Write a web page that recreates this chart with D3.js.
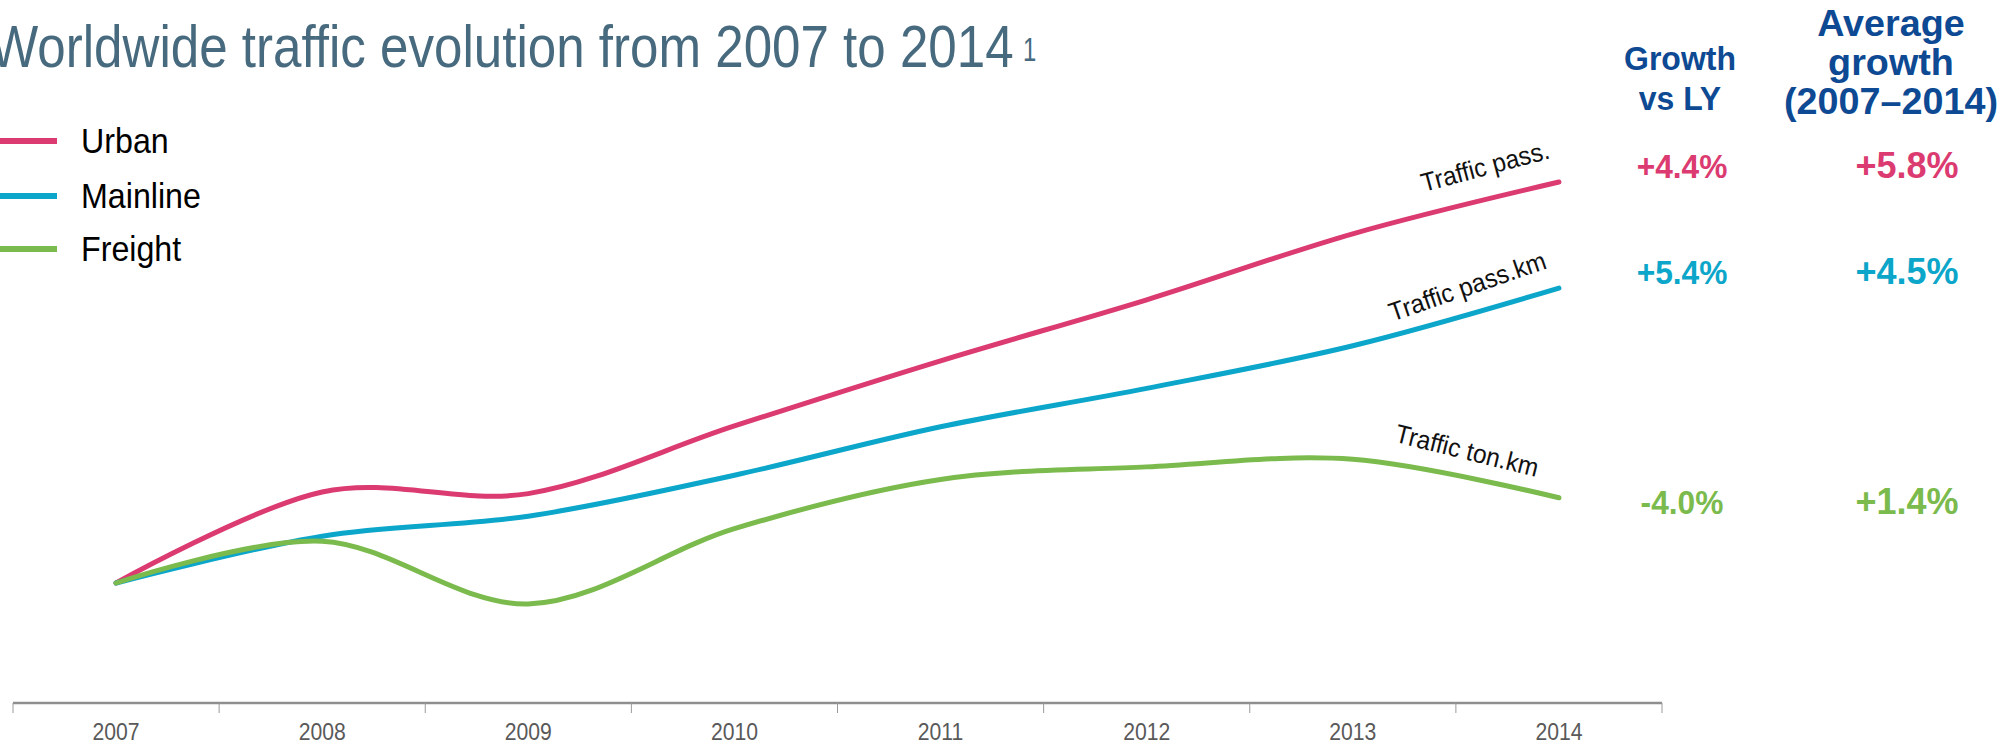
<!DOCTYPE html>
<html>
<head>
<meta charset="utf-8">
<script src="https://cdn.jsdelivr.net/npm/d3@7"></script>
<style>
  html, body { margin: 0; padding: 0; background: #fff; overflow: hidden; }
  svg { display: block; font-family: "Liberation Sans", Arial, sans-serif; }
</style>
</head>
<body>
<div id="chart"></div>
<script>
// data (index, 2007 = 100)
const years = [2007, 2008, 2009, 2010, 2011, 2012, 2013, 2014];
const urban = [100, 110.9, 110.7, 118.8, 126.6, 133.9, 141.8, 148.0];
const mainline = [100, 105.6, 108.0, 112.9, 118.7, 123.3, 128.4, 135.3];
const freight = [100, 105.0, 97.5, 106.5, 112.4, 113.9, 114.8, 110.2];

const seriesNames = ["Urban", "Mainline", "Freight"];
const lineLabels = ["Traffic pass.", "Traffic pass.km", "Traffic ton.km"];
const growthLY = ["+4.4%", "+5.4%", "-4.0%"];
const avgGrowth = ["+5.8%", "+4.5%", "+1.4%"];
const colors = ["#DB3B70", "#0BA6C9", "#7BBA4C"];

const width = 2009;
const height = 747;

const svg = d3.select("#chart").append("svg")
    .attr("width", width)
    .attr("height", height);

// text in the picture is a bit narrower than the font
const squeeze = (sel, k) => sel.each(function () {
    const len = this.getComputedTextLength();
    d3.select(this).attr("textLength", len * k).attr("lengthAdjust", "spacingAndGlyphs");
});

// scales
const x = d3.scaleBand()
    .domain(years)
    .range([13, 1662]);

const cx = d => x(d) + x.bandwidth() / 2;

const y = d3.scaleLinear()
    .domain([100, 148])
    .range([583, 182]);

// title, squeezed horizontally to the width in the picture
const title = svg.append("text")
    .style("font-size", "60px")
    .style("fill", "#476A7F")
    .text("Worldwide traffic evolution from 2007 to 2014");

const titleK = 1024 / title.node().getComputedTextLength();
title.attr("transform", `translate(-10,67) scale(${titleK},1)`);

svg.append("text")
    .attr("x", 1023)
    .attr("y", 61)
    .style("font-size", "34px")
    .style("fill", "#476A7F")
    .text("1")
    .call(squeeze, 0.7);

// legend
const legendY = [141, 196, 249];
seriesNames.forEach((name, i) => {
    svg.append("line")
        .attr("x1", 0).attr("x2", 57)
        .attr("y1", legendY[i]).attr("y2", legendY[i])
        .style("stroke", colors[i])
        .style("stroke-width", 6);

    svg.append("text")
        .attr("x", 81)
        .attr("y", legendY[i] + 12)
        .style("font-size", "35px")
        .style("fill", "#000")
        .text(name)
        .call(squeeze, 0.92);
});

// x axis
const axisY = 703;
const axis = svg.append("g")
    .attr("transform", `translate(0,${axisY})`);

axis.append("line")
    .attr("x1", x.range()[0]).attr("x2", x.range()[1])
    .style("stroke", "#8E8E8E")
    .style("stroke-width", 2.5);

const edges = years.map(d => x(d)).concat([x.range()[1]]);
axis.selectAll(".tick-edge")
    .data(edges)
    .enter()
    .append("line")
    .attr("class", "tick-edge")
    .attr("x1", d => d).attr("x2", d => d)
    .attr("y1", 0).attr("y2", 10)
    .style("stroke", "#9A9A9A")
    .style("stroke-width", 1);

const labels = svg.append("g")
    .attr("transform", `translate(0,${axisY})`)
    .call(d3.axisBottom(x).tickSize(0).tickPadding(21));

labels.select(".domain").remove();
labels.selectAll("text")
    .style("font-family", "Liberation Sans, Arial, sans-serif")
    .style("font-size", "23px")
    .style("fill", "#595959")
    .call(squeeze, 0.92);

// lines
const line = d3.line()
    .x((d, i) => cx(years[i]))
    .y(d => y(d))
    .curve(d3.curveCardinal.tension(0));

const series = [urban, mainline, freight];

svg.selectAll(".series")
    .data(series)
    .enter()
    .append("path")
    .attr("class", "series")
    .attr("d", line)
    .style("fill", "none")
    .style("stroke", (d, i) => colors[i])
    .style("stroke-width", 5)
    .style("stroke-linecap", "round");

// labels along the lines
const labelPos = [[1551, 158, -15], [1548, 268, -19], [1536, 477, 14]];
lineLabels.forEach((t, i) => {
    svg.append("text")
        .attr("transform", `translate(${labelPos[i][0]},${labelPos[i][1]}) rotate(${labelPos[i][2]})`)
        .attr("text-anchor", "end")
        .style("font-size", "26px")
        .style("fill", "#111")
        .text(t)
        .call(squeeze, 0.94);
});

// growth columns
const headX = [1680, 1891];
const colX = [1682, 1907];
const header1 = ["Growth", "vs LY"];
const header2 = ["Average", "growth", "(2007\u20132014)"];

header1.forEach((t, i) => {
    svg.append("text")
        .attr("x", headX[0]).attr("y", 70 + i * 40)
        .attr("text-anchor", "middle")
        .style("font-size", "34px")
        .style("font-weight", "bold")
        .style("fill", "#0D4A93")
        .text(t)
        .call(squeeze, 0.94);
});

header2.forEach((t, i) => {
    svg.append("text")
        .attr("x", headX[1]).attr("y", 36 + i * 39)
        .attr("text-anchor", "middle")
        .style("font-size", "37px")
        .style("font-weight", "bold")
        .style("fill", "#0D4A93")
        .text(t)
        .call(squeeze, 1.02);
});

const valueY = [178, 284, 514];
const valueSize = [33, 36];
const valueK = [0.96, 1.0];
[growthLY, avgGrowth].forEach((vals, c) => {
    vals.forEach((v, i) => {
        svg.append("text")
            .attr("x", colX[c]).attr("y", valueY[i])
            .attr("text-anchor", "middle")
            .style("font-size", valueSize[c] + "px")
            .style("font-weight", "bold")
            .style("fill", colors[i])
            .text(v)
            .call(squeeze, valueK[c]);
    });
});
</script>
</body>
</html>
